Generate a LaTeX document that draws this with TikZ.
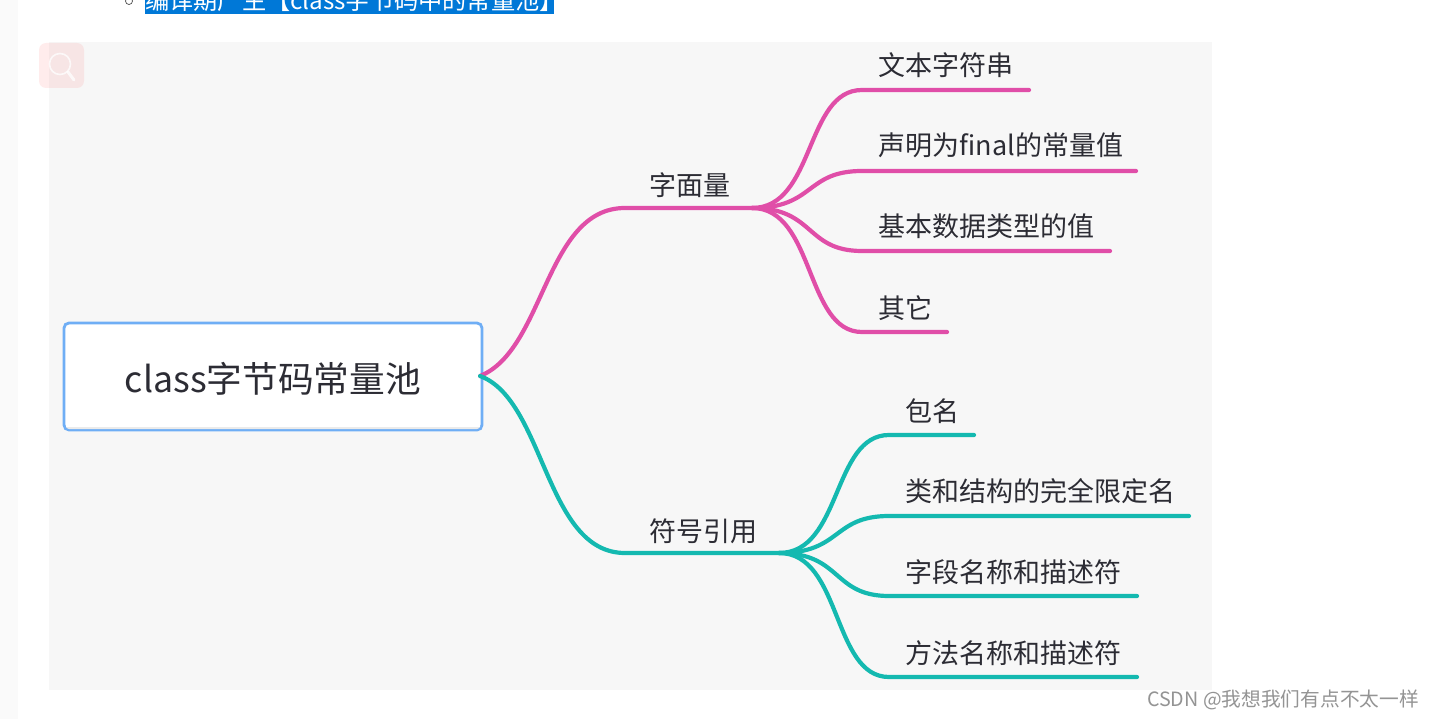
\documentclass[tikz,border=0pt]{standalone}
\usepackage{fontspec}
\setmainfont{Noto Sans CJK SC}[BoldFont={Noto Sans CJK SC}]
\definecolor{pinkline}{HTML}{E04EA8}
\definecolor{tealline}{HTML}{14B9B0}
\definecolor{rootblue}{HTML}{6FAEF5}
\definecolor{txt}{HTML}{2C2C34}
\definecolor{panel}{HTML}{F7F7F7}
\definecolor{sidebar}{HTML}{FAFAFA}
\definecolor{hilite}{HTML}{0078D7}
\tikzset{
 x=1pt,y=-1pt,
 leaf/.style={anchor=base west,inner sep=0pt,text=txt,font=\fontsize{27}{27}\selectfont},
 pinkbr/.style={draw=pinkline,line width=4.2pt,line cap=round},
 tealbr/.style={draw=tealline,line width=4.2pt,line cap=round},
}
\begin{document}
\begin{tikzpicture}
\useasboundingbox (0,0) rectangle (1434,719);
\fill[white] (0,0) rectangle (1434,719);
\fill[sidebar] (0,0) rectangle (18,719);
\fill[panel] (49,42) rectangle (1212,690);
% header line, cut by the top edge
\begin{scope}
\clip (0,0) rectangle (1434,719);
\fill[hilite] (145,-10) rectangle (554,14);
\draw[draw=black!70,line width=0.7pt] (129,1) circle (3.5);
\node[anchor=base west,inner sep=0pt,text=white,font=\fontsize{24.2}{24.2}\selectfont] (hdr) at (145,10) {编译期产生【class字节码中的常量池】};
\end{scope}
% search badge
\fill[red!60!white,opacity=0.12] (39,43) [rounded corners=7] rectangle (84,88);
\draw[white,opacity=0.75,line width=1.6pt] (60,64) circle (10.5);
\draw[white,opacity=0.75,line width=3pt,line cap=round] (68,72) -- (74,80);
% root
\node[draw=rootblue,line width=2.8pt,fill=white,rounded corners=5,minimum width=418,minimum height=107,inner sep=0,text=txt,font=\fontsize{35.7}{35.7}\selectfont] (root) at (273,376.5) {};
\fill[black!8,rounded corners=3] (66,424) rectangle (480,429);
\fill[white] (66,421) rectangle (480,426.5);
\node[inner sep=0,text=txt,font=\fontsize{35.7}{35.7}\selectfont] (roottext) at (273,378.5) {class字节码常量池};
\coordinate (rootout) at (480,376);
% level 1
\coordinate (a0) at (625,208); \coordinate (a1) at (752,208);
\coordinate (b0) at (625,553); \coordinate (b1) at (779,553);
\node[leaf] (lit) at (649,196) {字面量};
\node[leaf] (sym) at (649,541) {符号引用};
\draw[pinkbr] (rootout) .. controls (545,350) and (545,208) .. (a0) -- (a1);
\draw[tealbr] (rootout) .. controls (545,400) and (545,553) .. (b0) -- (b1);
% pink leaves
\coordinate (p1) at (1029,90);\coordinate (p2) at (1136,171);\coordinate (p3) at (1110,251);\coordinate (p4) at (947,332);
\node[leaf] (t1) at (878.5,76) {文本字符串};
\node[leaf] (t2) at (878.5,156) {声明为final的常量值};
\node[leaf] (t3) at (878.5,237) {基本数据类型的值};
\node[leaf] (t4) at (878.5,318) {其它};
\draw[pinkbr] (a1) .. controls (815,208) and (805,90) .. (862,90) -- (p1);
\draw[pinkbr] (a1) .. controls (815,208) and (805,171) .. (862,171) -- (p2);
\draw[pinkbr] (a1) .. controls (815,208) and (805,251) .. (862,251) -- (p3);
\draw[pinkbr] (a1) .. controls (815,208) and (805,332) .. (862,332) -- (p4);
% teal leaves
\coordinate (q1) at (974,435);\coordinate (q2) at (1189,516);\coordinate (q3) at (1137,596);\coordinate (q4) at (1137,677);
\node[leaf] (u1) at (905.5,421) {包名};
\node[leaf] (u2) at (905.5,501) {类和结构的完全限定名};
\node[leaf] (u3) at (905.5,582) {字段名称和描述符};
\node[leaf] (u4) at (905.5,663) {方法名称和描述符};
\draw[tealbr] (b1) .. controls (842,553) and (832,435) .. (889,435) -- (q1);
\draw[tealbr] (b1) .. controls (842,553) and (832,516) .. (889,516) -- (q2);
\draw[tealbr] (b1) .. controls (842,553) and (832,596) .. (889,596) -- (q3);
\draw[tealbr] (b1) .. controls (842,553) and (832,677) .. (889,677) -- (q4);
% watermark
\node[anchor=base east,inner sep=0pt,text=black!42,font=\fontsize{19.7}{19.7}\selectfont] (wm) at (1419,706) {CSDN @我想我们有点不太一样};
\end{tikzpicture}
\end{document}
